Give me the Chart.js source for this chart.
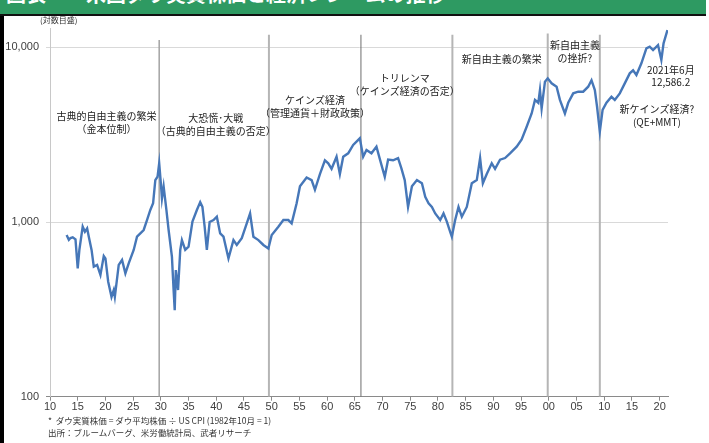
<!DOCTYPE html>
<html>
<head>
<meta charset="utf-8">
<script src="https://cdn.jsdelivr.net/npm/chart.js@4"></script>
<style>
  body { margin: 0; background: #fff; }
  #wrap { position: relative; width: 709px; height: 443px; overflow: hidden; background: #fff; }
  #chart { position: absolute; left: 0; top: 0; }
  .strip { position: absolute; left: 0; top: 0; width: 4px; height: 443px; background: #000; }
  .head { position: absolute; left: 0; top: 0; width: 706px; height: 14px; background: #2e9a62; overflow: hidden; border-bottom: 2px solid #111; }
  .head span { position: absolute; left: 6px; top: -20px; line-height: 28px; color: #fff; font-weight: bold; font-size: 20px; font-family: 'Noto Sans CJK JP'; white-space: pre; }
  .unit { position: absolute; left: 40px; top: 14px; font: 8px 'Noto Sans CJK JP'; color: #333; }
  .note { position: absolute; left: 48px; font: 8.5px 'Noto Sans CJK JP'; color: #333; white-space: pre; }
</style>
</head>
<body>
<div id="wrap">
  <canvas id="chart" width="709" height="443"></canvas>
  <div class="strip"></div>
  <div class="head"><span>図表　　米国ダウ実質株価と経済レジームの推移</span></div>
  <div class="unit">(対数目盛)</div>
  <div class="note" style="top:414px">*  ダウ実質株価 = ダウ平均株価 ÷ US CPI (1982年10月 = 1)</div>
  <div class="note" style="top:426px">出所：ブルームバーグ、米労働統計局、武者リサーチ</div>
</div>
<script>
const years = [
  1913.0, 1913.4, 1913.7, 1914.1, 1914.6, 1915.0, 1915.3, 1915.9, 1916.3, 1916.7,
  1917.0, 1917.5, 1917.9, 1918.5, 1919.1, 1919.7, 1920.0, 1920.5, 1921.1, 1921.5,
  1921.7, 1922.4, 1923.0, 1923.6, 1924.2, 1925.1, 1925.7, 1926.3, 1926.9, 1927.5,
  1928.1, 1928.6, 1929.0, 1929.4, 1929.7, 1930.0, 1930.2, 1930.5, 1931.0, 1931.4,
  1932.0, 1932.3, 1932.5, 1932.7, 1933.1, 1933.5, 1933.8, 1934.4, 1935.0, 1935.7,
  1936.5, 1937.1, 1937.5, 1937.9, 1938.3, 1938.8, 1939.5, 1940.1, 1940.7, 1941.3,
  1942.2, 1943.1, 1943.7, 1944.6, 1945.5, 1946.1, 1946.7, 1947.6, 1948.5, 1949.4,
  1950.0, 1951.2, 1952.1, 1953.0, 1953.6, 1954.5, 1955.1, 1956.3, 1957.2, 1957.8,
  1958.7, 1959.6, 1960.2, 1960.8, 1961.7, 1962.3, 1962.9, 1963.8, 1964.7, 1965.9,
  1966.5, 1967.1, 1968.0, 1968.9, 1969.5, 1970.4, 1971.0, 1971.9, 1972.8, 1973.4,
  1974.0, 1974.6, 1975.3, 1976.2, 1977.1, 1977.7, 1978.3, 1978.9, 1979.5, 1980.4,
  1981.0, 1981.6, 1982.2, 1982.5, 1983.1, 1983.7, 1984.3, 1985.2, 1986.1, 1987.0,
  1987.6, 1988.1, 1988.8, 1989.7, 1990.3, 1991.2, 1992.1, 1993.0, 1994.2, 1995.1,
  1996.0, 1996.9, 1997.5, 1998.1, 1998.4, 1998.7, 1999.3, 1999.8, 2000.5, 2001.4,
  2002.0, 2002.9, 2003.5, 2004.4, 2005.3, 2006.2, 2007.1, 2007.7, 2008.3, 2008.7,
  2009.2, 2009.7, 2010.4, 2011.3, 2011.9, 2012.8, 2013.7, 2014.6, 2015.2, 2015.8,
  2016.7, 2017.6, 2018.2, 2018.8, 2019.7, 2020.3, 2020.7, 2021.4
];
const realDow = [
  843, 790, 810, 818, 796, 543, 692, 940, 879, 920,
  824, 692, 555, 568, 498, 639, 619, 455, 373, 408,
  373, 568, 606, 508, 580, 692, 824, 861, 900, 1026,
  1172, 1280, 1738, 1815, 2168, 1665, 1366, 1600, 1172, 900,
  632, 408, 313, 531, 408, 692, 788, 692, 722, 1005,
  1172, 1300, 1220, 940, 692, 1000, 1026, 1072, 861, 824,
  619, 788, 739, 808, 982, 1119, 824, 788, 739, 706,
  842, 940, 1026, 1026, 982, 1280, 1600, 1799, 1738, 1530,
  1881, 2256, 2167, 2017, 2366, 1881, 2366, 2473, 2763, 3014,
  2366, 2584, 2473, 2700, 2300, 1815, 2274, 2256, 2324, 2028,
  1738, 1220, 1600, 1738, 1665, 1395, 1280, 1220, 1119, 1026,
  1119, 1005, 879, 824, 1026, 1220, 1072, 1220, 1665, 1738,
  2324, 1665, 1881, 2168, 2017, 2274, 2324, 2470, 2700, 2970,
  3510, 4184, 5000, 4814, 5700, 4470, 6358, 6645, 6220, 5950,
  5000, 4184, 4814, 5451, 5570, 5570, 5950, 6480, 5696, 4570,
  3290, 4380, 4814, 5210, 5000, 5451, 6220, 7095, 7380, 6940,
  8100, 9870, 10080, 9650, 10300, 8460, 10540, 12560
];

// regime boundaries
const regimeYears = [1929.7, 1949.5, 1966.1, 1982.6, 1999.8, 2009.2];
const regimeTop = [11000, 11800, 11800, 11800, 12000, 11800];

const xTickYears = [1910, 1915, 1920, 1925, 1930, 1935, 1940, 1945, 1950, 1955, 1960, 1965,
                    1970, 1975, 1980, 1985, 1990, 1995, 2000, 2005, 2010, 2015, 2020];
const xTickLabels = ['10', '15', '20', '25', '30', '35', '40', '45', '50', '55', '60', '65',
                     '70', '75', '80', '85', '90', '95', '00', '05', '10', '15', '20'];
const yTicks = [100, 1000, 10000];
const yTickLabels = ['100', '1,000', '10,000'];

// text notes placed at (year, value) of their first line
const notes = [
  { year: 1920.2, value: 4050, lines: ['古典的自由主義の繁栄', '（金本位制）'] },
  { year: 1939.9, value: 3940, lines: ['大恐慌･大戦', '（古典的自由主義の否定）'] },
  { year: 1957.8, value: 4990, lines: ['ケインズ経済', '（管理通貨＋財政政策）'] },
  { year: 1974.0, value: 6670, lines: ['トリレンマ', '（ケインズ経済の否定）'] },
  { year: 1991.5, value: 8570, lines: ['新自由主義の繁栄'] },
  { year: 2004.7, value: 10300, lines: ['新自由主義', 'の挫折?'] },
  { year: 2022.0, value: 7400, lines: ['2021年6月', '12,586.2'], gap: 12 },
  { year: 2019.5, value: 4430, lines: ['新ケインズ経済?', '(QE+MMT)'] }
];

const lineColors = ['#a3a3a3', '#b5b5b5', '#6e6e6e', '#b5b5b5', '#b5b5b5', '#b5b5b5'];
const lineWidths = [1.5, 2, 1, 2, 2, 2];

const regimeSets = regimeYears.map((yr, i) => ({
  data: [{ x: yr, y: 100 }, { x: yr, y: regimeTop[i] }],
  borderColor: lineColors[i],
  borderWidth: lineWidths[i],
  pointRadius: 0,
  order: 2
}));

const notePlugin = {
  id: 'notes',
  afterDatasetsDraw(chart) {
    const ctx = chart.ctx;
    const sx = chart.scales.x, sy = chart.scales.y;
    ctx.save();
    ctx.font = "10px 'Noto Sans CJK JP'";
    ctx.fillStyle = '#222';
    ctx.textAlign = 'center';
    ctx.textBaseline = 'middle';
    notes.forEach(n => {
      const x = sx.getPixelForValue(n.year);
      const y = sy.getPixelForValue(n.value);
      n.lines.forEach((t, i) => ctx.fillText(t, x, y + i * (n.gap || 13.5)));
    });
    ctx.restore();
  }
};

Chart.defaults.font.family = "'Liberation Sans', Arial, sans-serif";
Chart.defaults.font.size = 11;
Chart.defaults.color = '#404040';

new Chart(document.getElementById('chart'), {
  type: 'line',
  data: {
    datasets: [{
      data: years.map((yr, i) => ({ x: yr, y: realDow[i] })),
      borderColor: '#4677b8',
      borderWidth: 2.4,
      pointRadius: 0,
      tension: 0,
      order: 1
    }, ...regimeSets]
  },
  options: {
    responsive: false,
    animation: false,
    layout: { padding: { top: 28, left: 0, right: 41, bottom: 24.3 } },
    plugins: { legend: { display: false }, tooltip: { enabled: false } },
    scales: {
      x: {
        type: 'linear',
        min: 1910,
        max: 2021.5,
        afterBuildTicks: s => { s.ticks = xTickYears.map(v => ({ value: v })); },
        afterFit: s => { s.height = 22; },
        ticks: {
          autoSkip: false,
          maxRotation: 0,
          padding: 0,
          callback: (v, i) => xTickLabels[i]
        },
        grid: { drawOnChartArea: false, tickLength: 4, color: '#8a8a8a' },
        border: { color: '#8a8a8a' }
      },
      y: {
        type: 'logarithmic',
        min: 100,
        max: 12900,
        afterBuildTicks: s => { s.ticks = yTicks.map(v => ({ value: v })); },
        afterFit: s => { s.width = 50; },
        ticks: {
          padding: 7,
          callback: (v, i) => yTickLabels[i]
        },
        grid: {
          tickLength: 4,
          color: c => c.tick && c.tick.value === 100 ? '#8a8a8a' : '#d9d9d9'
        },
        border: { color: '#c8c8c8' }
      }
    }
  },
  plugins: [notePlugin]
});
</script>
</body>
</html>
